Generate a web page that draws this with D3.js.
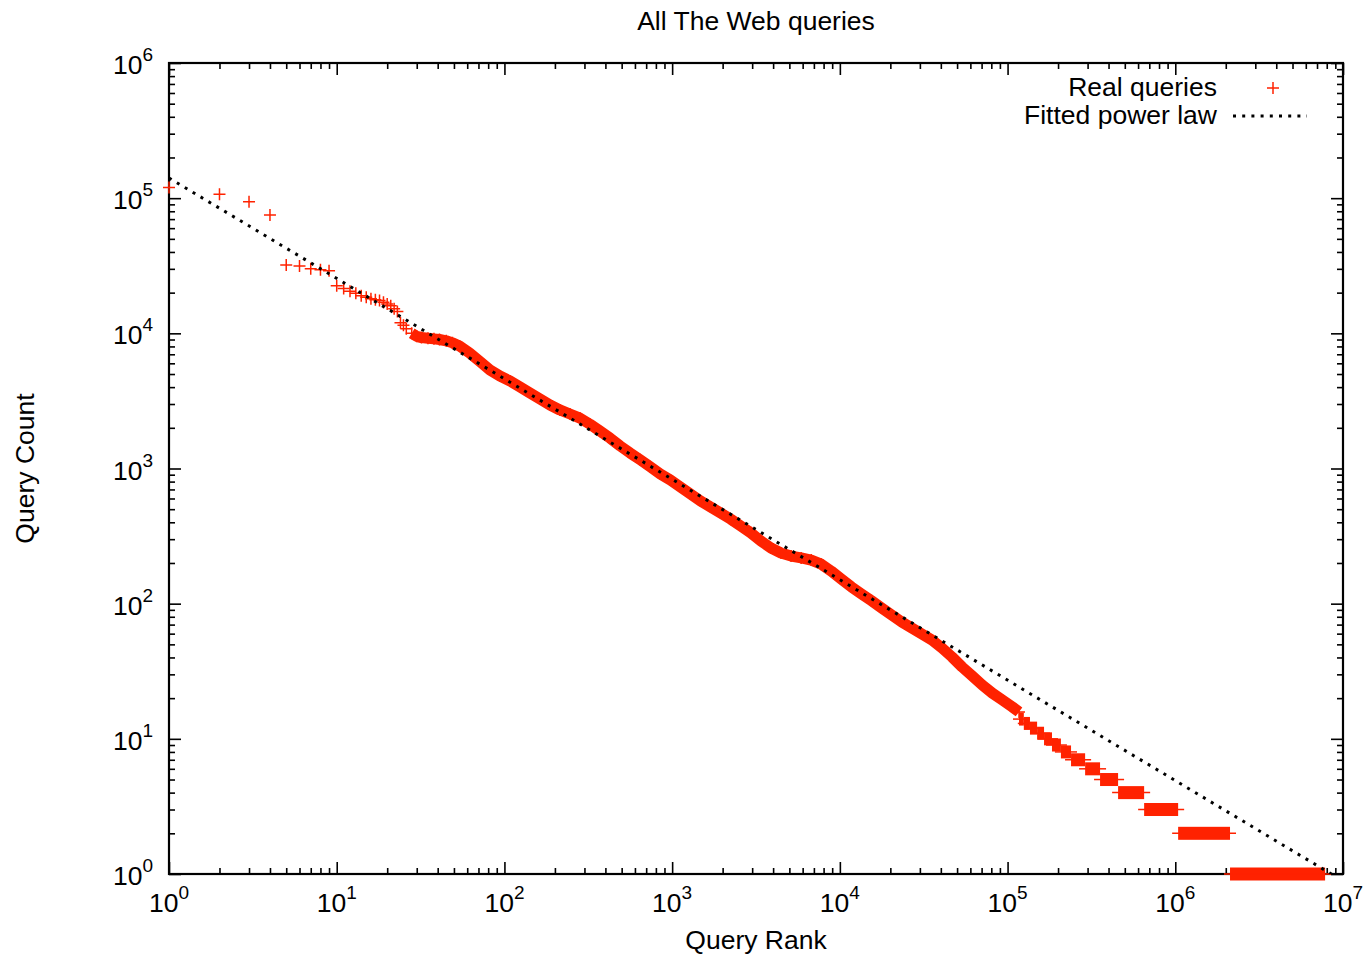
<!DOCTYPE html>
<html>
<head>
<meta charset="utf-8">
<script src="https://cdn.jsdelivr.net/npm/d3@7"></script>
<style>
body { margin: 0; background: #fff; }
text { font-family: "Liberation Sans", Arial, sans-serif; fill: #000; }
</style>
</head>
<body>
<script>
// readings: rank -> count
var queryRank = [1, 2, 3, 4, 5, 6, 7, 8, 9, 10, 11, 12, 13, 14, 15, 16, 17, 18, 19, 20, 21, 22, 23, 24, 25,
    26, 28, 30, 32, 35, 38, 41, 45, 49, 54, 62, 72, 82, 94, 108, 124, 142, 163, 187, 214, 246, 282, 323, 372,
    426, 489, 562, 645, 740, 850, 976, 1120, 1286, 1477, 1695, 1946, 2234, 2565, 2946, 3382, 3883, 4458,
    5118, 5877, 6748, 7747, 8895, 10212, 11724, 13461, 15455, 17744, 20372, 23390, 26854, 30832, 35398,
    40641, 46661, 53573, 61508, 70618, 81079, 93089, 106878, 117000];
var queryCount = [120000, 107000, 94000, 75000, 32000, 31500, 30000, 29500, 29000, 22500, 21500, 20500, 19800,
    19000, 18500, 18000, 17700, 17500, 17000, 16500, 16000, 15200, 14500, 12000, 11500,
    10800, 10000, 9500, 9300, 9200, 9100, 9000, 8800, 8500, 8060, 7150, 6140, 5360, 4830, 4440, 4010, 3620,
    3270, 2950, 2710, 2530, 2360, 2130, 1890, 1680, 1470, 1300, 1160, 1030, 911, 822, 730, 648, 575, 519,
    469, 422, 375, 334, 291, 258, 237, 225, 218, 210, 196, 174, 152, 133, 118, 105, 92.9, 82.4, 73.2,
    66.0, 59.7, 53.9, 47.0, 40.3, 34.0, 29.2, 25.0, 21.8, 19.4, 17.2, 15.8];

// low counts: runs of equal count, first and last rank of each run
var tailCount = [14, 13, 12, 11, 10, 9, 8, 7, 6, 5, 4, 3, 2, 1];
var tailFirstRank = [117000, 125000, 136000, 150000, 165000, 184000, 208000, 239000, 290000, 356000, 456000, 652000, 1040000, 2120000];
var tailLastRank = [125000, 136000, 150000, 165000, 184000, 208000, 239000, 290000, 356000, 456000, 652000, 1040000, 2120000, 7820000];

// fitted power law  count = fitScale * rank^fitExponent
var fitScale = 141000;
var fitExponent = -0.743;

var xExponents = [0, 1, 2, 3, 4, 5, 6, 7];
var yExponents = [0, 1, 2, 3, 4, 5, 6];
var legendLabels = ["Real queries", "Fitted power law"];

var width = 1371, height = 959;
var plotLeft = 169, plotRight = 1343, plotTop = 63, plotBottom = 874;
var red = "#ff2200";
var plusPath = "M-6,0H6M0,-6V6";
var dots = "3,6.2";

var svg = d3.select("body").append("svg")
    .attr("width", width)
    .attr("height", height);

var x = d3.scaleLog().domain([1, 1e7]).range([plotLeft, plotRight]);
var y = d3.scaleLog().domain([1, 1e6]).range([plotBottom, plotTop]);

function minors(exps) {
    var out = [];
    for (var i = 0; i < exps.length - 1; i++) {
        for (var m = 2; m < 10; m++) out.push(m * Math.pow(10, exps[i]));
    }
    return out;
}
var xMajor = xExponents.map(function(e) { return Math.pow(10, e); });
var yMajor = yExponents.map(function(e) { return Math.pow(10, e); });

function drawAxes() {
    var sides = [
        {ax: d3.axisBottom(x), t: "translate(0," + plotBottom + ")", maj: xMajor, min: minors(xExponents)},
        {ax: d3.axisTop(x), t: "translate(0," + plotTop + ")", maj: xMajor, min: minors(xExponents)},
        {ax: d3.axisLeft(y), t: "translate(" + plotLeft + ",0)", maj: yMajor, min: minors(yExponents)},
        {ax: d3.axisRight(y), t: "translate(" + plotRight + ",0)", maj: yMajor, min: minors(yExponents)}
    ];
    sides.forEach(function(s) {
        [[s.maj, 12], [s.min, 6]].forEach(function(p) {
            var g = svg.append("g")
                .attr("transform", s.t)
                .call(s.ax.tickValues(p[0]).tickSize(-p[1]).tickFormat(""));
            g.select(".domain").remove();
            g.selectAll("line").attr("stroke", "#000").attr("stroke-width", 1.6);
        });
    });

    svg.append("rect")
        .attr("x", plotLeft).attr("y", plotTop)
        .attr("width", plotRight - plotLeft).attr("height", plotBottom - plotTop)
        .attr("fill", "none").attr("stroke", "#000").attr("stroke-width", 2.2);

    // x tick labels
    var xl = svg.append("g").selectAll("text")
        .data(xExponents).enter().append("text")
        .attr("x", function(e) { return x(Math.pow(10, e)); })
        .attr("y", 912)
        .attr("text-anchor", "middle")
        .style("font-size", "26.5px")
        .text("10");
    xl.append("tspan")
        .attr("dy", -13)
        .style("font-size", "19px")
        .text(function(e) { return e; });

    // y tick labels
    var yl = svg.append("g").selectAll("text")
        .data(yExponents).enter().append("text")
        .attr("x", 153)
        .attr("y", function(e) { return y(Math.pow(10, e)) + 11; })
        .attr("text-anchor", "end")
        .style("font-size", "26.5px")
        .text("10");
    yl.append("tspan")
        .attr("dy", -13)
        .style("font-size", "19px")
        .text(function(e) { return e; });

    svg.append("text")
        .attr("x", (plotLeft + plotRight) / 2).attr("y", 30)
        .attr("text-anchor", "middle")
        .style("font-size", "26.5px")
        .text("All The Web queries");

    svg.append("text")
        .attr("x", (plotLeft + plotRight) / 2).attr("y", 949)
        .attr("text-anchor", "middle")
        .style("font-size", "26.5px")
        .text("Query Rank");

    svg.append("text")
        .attr("transform", "translate(34," + ((plotTop + plotBottom) / 2) + ") rotate(-90)")
        .attr("text-anchor", "middle")
        .style("font-size", "26.5px")
        .text("Query Count");
}

function drawData() {
    svg.append("clipPath").attr("id", "plotClip")
        .append("rect")
        .attr("x", plotLeft).attr("y", plotTop)
        .attr("width", plotRight - plotLeft).attr("height", plotBottom - plotTop);

    var pts = queryRank.map(function(r, i) { return {rank: r, count: queryCount[i]}; });

    // dense part: the markers overlap into a solid band
    var line = d3.line()
        .x(function(d) { return x(d.rank); })
        .y(function(d) { return y(d.count); });
    svg.append("path")
        .datum(pts.filter(function(d) { return d.rank >= 28; }))
        .attr("d", line)
        .attr("fill", "none")
        .attr("stroke", red)
        .attr("stroke-width", 11)
        .attr("stroke-linejoin", "round");

    svg.append("g").selectAll("path")
        .data(pts).enter().append("path")
        .attr("d", plusPath)
        .attr("transform", function(d) { return "translate(" + x(d.rank) + "," + y(d.count) + ")"; })
        .attr("fill", "none")
        .attr("stroke", red)
        .attr("stroke-width", 1.5);

    // runs of equal count
    var runs = tailCount.map(function(c, i) { return {count: c, first: tailFirstRank[i], last: tailLastRank[i]}; });
    var rg = svg.append("g");
    rg.selectAll("rect")
        .data(runs).enter().append("rect")
        .attr("x", function(d) { return x(d.first); })
        .attr("y", function(d) { return y(d.count) - 6.5; })
        .attr("width", function(d) { return x(d.last) - x(d.first); })
        .attr("height", 13)
        .attr("fill", red);
    rg.selectAll("line")
        .data(runs).enter().append("line")
        .attr("x1", function(d) { return x(d.first) - 6; })
        .attr("x2", function(d) { return x(d.last) + 6; })
        .attr("y1", function(d) { return y(d.count); })
        .attr("y2", function(d) { return y(d.count); })
        .attr("stroke", red)
        .attr("stroke-width", 1.5);

    // fitted power law
    var fit = [1, 1e7].map(function(r) { return {rank: r, count: fitScale * Math.pow(r, fitExponent)}; });
    svg.append("path")
        .datum(fit)
        .attr("d", line)
        .attr("clip-path", "url(#plotClip)")
        .attr("fill", "none")
        .attr("stroke", "#000")
        .attr("stroke-width", 3)
        .attr("stroke-dasharray", dots);
}

function drawLegend() {
    svg.append("g").selectAll("text")
        .data(legendLabels).enter().append("text")
        .attr("x", 1217)
        .attr("y", function(d, i) { return 96 + i * 28; })
        .attr("text-anchor", "end")
        .style("font-size", "26.5px")
        .text(function(d) { return d; });

    svg.append("path")
        .attr("d", plusPath)
        .attr("transform", "translate(1273,88)")
        .attr("fill", "none")
        .attr("stroke", red)
        .attr("stroke-width", 1.5);

    svg.append("line")
        .attr("x1", 1233).attr("x2", 1307)
        .attr("y1", 116).attr("y2", 116)
        .attr("stroke", "#000")
        .attr("stroke-width", 3)
        .attr("stroke-dasharray", dots);
}

drawAxes();
drawData();
drawLegend();
</script>
</body>
</html>
